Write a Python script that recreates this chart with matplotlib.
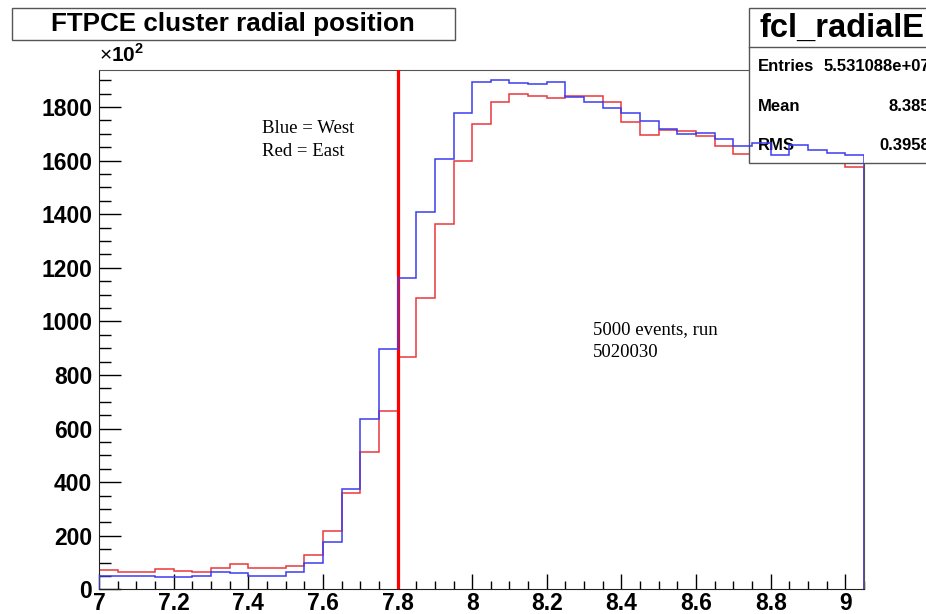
import numpy as np
import matplotlib.pyplot as plt
from matplotlib.patches import Rectangle
from matplotlib.ticker import MultipleLocator

plt.rcParams['font.family'] = ['Liberation Sans', 'DejaVu Sans']
plt.rcParams['mathtext.fontset'] = 'custom'
plt.rcParams['mathtext.rm'] = 'Liberation Sans'
plt.rcParams['mathtext.bf'] = 'Liberation Sans:bold'

# histogram: 41 bins of width 0.05 starting at 7.0 (counts in units of 1e2)
bin_start = 7.0
bin_width = 0.05
west_counts = [51, 51, 51, 45, 45, 51, 66, 60, 51, 51,
               63, 100, 175, 373, 634, 896, 1163, 1409, 1606, 1776,
               1894, 1899, 1890, 1885, 1892, 1838, 1819, 1797, 1776, 1748,
               1716, 1699, 1704, 1679, 1654, 1664, 1622, 1658, 1639, 1630,
               1619]
east_counts = [72, 66, 66, 75, 70, 65, 78, 93, 81, 81,
               88, 128, 217, 360, 511, 665, 868, 1087, 1364, 1598,
               1735, 1819, 1847, 1842, 1834, 1842, 1840, 1819, 1745, 1695,
               1714, 1710, 1691, 1654, 1624, 1640, 1630, 1625, 1610, 1600,
               1577]
cut_position = 7.8

xtick_vals = [7, 7.2, 7.4, 7.6, 7.8, 8, 8.2, 8.4, 8.6, 8.8, 9]
xtick_labels = ['7', '7.2', '7.4', '7.6', '7.8', '8', '8.2', '8.4', '8.6', '8.8', '9']
ytick_vals = [0, 200, 400, 600, 800, 1000, 1200, 1400, 1600, 1800]

stats_name = "fcl_radialE"
stats_rows = [("Entries", "5.531088e+07"), ("Mean", "8.385"), ("RMS", "0.3958")]

edges = bin_start + bin_width * np.arange(len(west_counts) + 1)

W, H = 926, 614
fig = plt.figure(figsize=(W / 100, H / 100), dpi=100)
ax = fig.add_axes([99 / W, 1 - 589.3 / H, (864 - 99) / W, (589.3 - 70) / H])

ax.stairs(east_counts, edges, color='#e8383c', lw=1.1, baseline=0, zorder=2)
ax.stairs(west_counts, edges, color='#3c3cf0', lw=1.1, baseline=0, zorder=6)
ax.axvline(cut_position, color='#ff0000', lw=2.3, zorder=3)

ax.set_xlim(7, 9.05)
ax.set_ylim(0, 1938)
ax.set_xticks(xtick_vals)
ax.set_xticklabels(xtick_labels)
ax.set_yticks(ytick_vals)
ax.xaxis.set_minor_locator(MultipleLocator(0.05))
ax.yaxis.set_minor_locator(MultipleLocator(50))
ax.tick_params(axis='x', which='major', direction='in', length=10.8, width=1,
               labelsize=16.5, pad=2)
ax.tick_params(axis='x', which='minor', direction='in', length=5.5, width=1)
ax.tick_params(axis='y', which='major', direction='in', length=15.8, width=1,
               labelsize=16.5, pad=5)
ax.tick_params(axis='y', which='minor', direction='in', length=8.4, width=1)
for lbl in ax.get_xticklabels() + ax.get_yticklabels():
    lbl.set_fontweight('bold')
for side in ['top', 'right']:
    ax.spines[side].set_color('#555555')
for side in ['left', 'bottom']:
    ax.spines[side].set_color('#222222')

ax.text(0.0, 1.008, r'$\times\mathbf{10}^{\mathbf{2}}$', transform=ax.transAxes,
        fontsize=15, ha='left', va='bottom')

# text annotations
serif = ['Liberation Serif', 'DejaVu Serif']
ax.text(7.436, 1721, "Blue = West", family=serif, fontsize=13.5, va='center')
ax.text(7.436, 1633, "Red = East", family=serif, fontsize=13.5, va='center')
ax.text(8.324, 968, "5000 events, run", family=serif, fontsize=13.5, va='center')
ax.text(8.324, 883, "5020030", family=serif, fontsize=13.5, va='center')

# title box
fig.patches.append(Rectangle((12 / W, 1 - 40 / H), (455 - 12) / W, 32 / H,
                             transform=fig.transFigure, facecolor='white',
                             edgecolor='#555555', lw=1))
fig.text(233 / W, 1 - 24 / H, "FTPCE cluster radial position", ha='center',
         va='center', fontsize=18.7, fontweight='bold')

# stats box (partly outside the canvas, drawn between red and blue)
ax.add_patch(Rectangle((749 / W, 1 - 163 / H), 300 / W, (163 - 8) / H,
                       transform=fig.transFigure, facecolor='white',
                       edgecolor='#555555', lw=1, clip_on=False, zorder=4))
ax.add_line(plt.Line2D([749 / W, 1.2], [1 - 46.7 / H, 1 - 46.7 / H],
                       transform=fig.transFigure, color='#555555', lw=1,
                       clip_on=False, zorder=4))
ax.text(760 / W, 1 - 28 / H, stats_name, transform=fig.transFigure,
        fontsize=23.5, fontweight='bold', ha='left', va='center',
        clip_on=False, zorder=5)
row_y = [66.7, 106.7, 145]
for (name, val), yy in zip(stats_rows, row_y):
    ax.text(758 / W, 1 - yy / H, name, transform=fig.transFigure, fontsize=12,
            fontweight='bold', ha='left', va='center', clip_on=False, zorder=5)
    ax.text(930 / W, 1 - yy / H, val, transform=fig.transFigure, fontsize=12,
            fontweight='bold', ha='right', va='center', clip_on=False, zorder=5)

fig.savefig("out.png", dpi=100)
